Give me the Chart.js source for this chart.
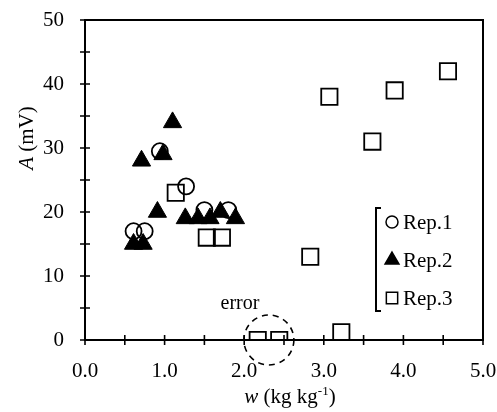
<!DOCTYPE html>
<html>
<head>
<meta charset="utf-8">
<script src="https://cdn.jsdelivr.net/npm/chart.js@4.4.1/dist/chart.umd.min.js"></script>
<style>
  html, body { margin: 0; padding: 0; background: #fff; }
  #wrap { width: 497px; height: 412px; }
</style>
</head>
<body>
<div id="wrap"><canvas id="chart"></canvas></div>
<script>
// data
const rep1X = [0.61, 0.75, 0.94, 1.27, 1.50, 1.80];
const rep1Y = [17, 17, 29.5, 24, 20.3, 20.3];
const rep2X = [0.61, 0.73, 0.71, 0.91, 0.98, 1.10, 1.26, 1.42, 1.57, 1.70, 1.89];
const rep2Y = [15, 15, 28, 20, 29, 34, 19, 19, 19, 20, 19];
const rep3X = [1.14, 1.53, 1.72, 2.17, 2.44, 2.83, 3.07, 3.22, 3.61, 3.89, 4.56];
const rep3Y = [23, 16, 16, 0, 0, 13, 38, 1.2, 31, 39, 42];
const seriesNames = ['Rep.1', 'Rep.2', 'Rep.3'];
const xTickLabels = ['0.0', '1.0', '2.0', '3.0', '4.0', '5.0'];
const yTickLabels = ['0', '10', '20', '30', '40', '50'];
const errorCenter = { x: 2.31, y: 0 };

const FONT = '"Liberation Serif", "Times New Roman", serif';

function pts(xs, ys) {
    return xs.map((x, i) => ({ x: x, y: ys[i] }));
}

const frame = {
    id: 'frame',
    beforeDatasetsDraw(chart) {
        const ctx = chart.ctx;
        const a = chart.chartArea;
        const xs = chart.scales.x, ys = chart.scales.y;
        ctx.save();
        ctx.strokeStyle = '#000';
        ctx.lineWidth = 2;
        ctx.strokeRect(a.left, a.top, a.right - a.left, a.bottom - a.top);
        ctx.lineWidth = 1.6;
        ctx.beginPath();
        xs.ticks.forEach(t => {
            const px = xs.getPixelForValue(t.value);
            ctx.moveTo(px, a.bottom - 5);
            ctx.lineTo(px, a.bottom + 5);
        });
        ys.ticks.forEach(t => {
            const py = ys.getPixelForValue(t.value);
            ctx.moveTo(a.left - 5, py);
            ctx.lineTo(a.left + 5, py);
        });
        ctx.stroke();
        ctx.restore();
    },
    afterDatasetsDraw(chart) {
        const ctx = chart.ctx;
        const xs = chart.scales.x, ys = chart.scales.y;
        ctx.save();
        ctx.fillStyle = '#000';
        ctx.strokeStyle = '#000';

        // dashed "error" circle
        const cx = xs.getPixelForValue(errorCenter.x);
        const cy = ys.getPixelForValue(errorCenter.y);
        ctx.lineWidth = 1.6;
        ctx.setLineDash([6, 5]);
        ctx.beginPath();
        ctx.arc(cx, cy, 25, 0, Math.PI * 2);
        ctx.stroke();
        ctx.setLineDash([]);
        ctx.font = '20px ' + FONT;
        ctx.textAlign = 'center';
        ctx.textBaseline = 'alphabetic';
        ctx.fillText('error', 240, 309);

        // legend with bracket
        const lx = 376, top = 208, bottom = 311;
        ctx.lineWidth = 2;
        ctx.beginPath();
        ctx.moveTo(lx + 5, top);
        ctx.lineTo(lx, top);
        ctx.lineTo(lx, bottom);
        ctx.lineTo(lx + 5, bottom);
        ctx.stroke();
        const rows = [222, 260, 298];
        const radii = [6, 8, 8];
        chart.data.datasets.forEach((ds, i) => {
            ctx.fillStyle = ds.backgroundColor;
            ctx.strokeStyle = '#000';
            ctx.lineWidth = 1.5;
            Chart.helpers.drawPoint(ctx, {
                pointStyle: ds.pointStyle,
                radius: radii[i],
                borderWidth: 1.5
            }, 392, rows[i]);
        });
        ctx.fillStyle = '#000';
        ctx.font = '21px ' + FONT;
        ctx.textAlign = 'left';
        ctx.textBaseline = 'middle';
        chart.data.datasets.forEach((ds, i) => {
            ctx.fillText(ds.label, 403, rows[i] + 1);
        });

        // axis titles
        ctx.textBaseline = 'alphabetic';
        ctx.textAlign = 'left';
        const it = 'italic 21px ' + FONT, rg = '21px ' + FONT, sm = '13px ' + FONT;
        // x title: w (kg kg-1)
        ctx.font = it; const w1 = ctx.measureText('w').width;
        ctx.font = rg; const w2 = ctx.measureText(' (kg kg').width;
        ctx.font = sm; const w3 = ctx.measureText('-1').width;
        ctx.font = rg; const w4 = ctx.measureText(')').width;
        let x0 = 290 - (w1 + w2 + w3 + w4) / 2;
        const by = 403;
        ctx.font = it; ctx.fillText('w', x0, by); x0 += w1;
        ctx.font = rg; ctx.fillText(' (kg kg', x0, by); x0 += w2;
        ctx.font = sm; ctx.fillText('-1', x0, by - 8); x0 += w3;
        ctx.font = rg; ctx.fillText(')', x0, by);

        // y title: A (mV)
        ctx.translate(33, 138);
        ctx.rotate(-Math.PI / 2);
        ctx.font = it; const a1 = ctx.measureText('A').width;
        ctx.font = rg; const a2 = ctx.measureText(' (mV)').width;
        let y0 = -(a1 + a2) / 2;
        ctx.font = it; ctx.fillText('A', y0, 0); y0 += a1;
        ctx.font = rg; ctx.fillText(' (mV)', y0, 0);
        ctx.restore();
    }
};

const ctx = document.getElementById('chart').getContext('2d');
const chart = new Chart(ctx, {
    type: 'scatter',
    data: {
        datasets: [
            {
                label: seriesNames[0],
                data: pts(rep1X, rep1Y),
                pointStyle: 'circle',
                pointRadius: 8,
                borderColor: '#000',
                backgroundColor: 'rgba(0,0,0,0)',
                borderWidth: 1.8,
                order: 2
            },
            {
                label: seriesNames[1],
                data: pts(rep2X, rep2Y),
                pointStyle: 'triangle',
                pointRadius: 10.5,
                borderColor: '#000',
                backgroundColor: '#000',
                borderWidth: 1,
                order: 1
            },
            {
                label: seriesNames[2],
                data: pts(rep3X, rep3Y),
                pointStyle: 'rect',
                pointRadius: 11.5,
                borderColor: '#000',
                backgroundColor: 'rgba(0,0,0,0)',
                borderWidth: 1.8,
                order: 3
            }
        ]
    },
    options: {
        responsive: true,
        maintainAspectRatio: false,
        animation: false,
        layout: { padding: { top: 20, right: 14, left: 0, bottom: 0 } },
        plugins: {
            legend: { display: false },
            tooltip: { enabled: false }
        },
        scales: {
            x: {
                type: 'linear',
                min: 0,
                max: 5,
                border: { display: false },
                grid: { display: false, drawTicks: false },
                ticks: {
                    stepSize: 0.5,
                    autoSkip: false,
                    maxRotation: 0,
                    padding: 19,
                    color: '#000',
                    font: { family: FONT, size: 21 },
                    callback: v => Number.isInteger(v) ? xTickLabels[v] : ''
                },
                afterFit(s) {
                    s.height = 72;
                    s.paddingLeft = 0;
                    s.paddingRight = 0;
                }
            },
            y: {
                min: 0,
                max: 50,
                border: { display: false },
                grid: { display: false, drawTicks: false },
                ticks: {
                    stepSize: 5,
                    autoSkip: false,
                    padding: 21,
                    color: '#000',
                    font: { family: FONT, size: 21 },
                    callback: v => v % 10 === 0 ? yTickLabels[v / 10] : ''
                },
                afterFit(s) {
                    s.width = 85;
                    s.paddingTop = 0;
                    s.paddingBottom = 0;
                }
            }
        }
    },
    plugins: [frame]
});
</script>
</body>
</html>
